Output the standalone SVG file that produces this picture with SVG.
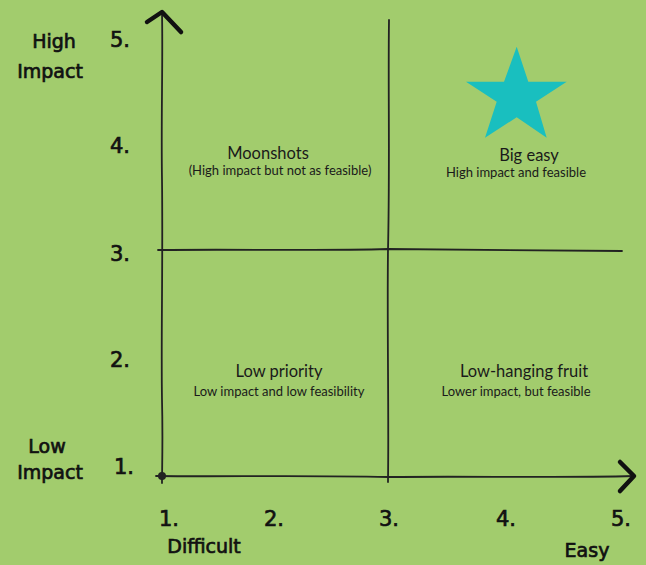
<svg xmlns="http://www.w3.org/2000/svg" width="646" height="565" viewBox="0 0 646 565">
  <style>
    .hand { font-family: "DejaVu Sans", "Liberation Sans", sans-serif; fill: #111; stroke: #111; stroke-width: 0.7; }
    .num { font-size: 21px; }
    .axis-title { font-size: 19px; }
    .title { font-family: "Lato", "Noto Sans", sans-serif; font-size: 16.5px; fill: #1a1a1a; text-anchor: middle; }
    .sub { font-family: "Lato", "Noto Sans", sans-serif; font-size: 13px; fill: #1a1a1a; text-anchor: middle; }
    .line { fill: none; stroke: #222; stroke-width: 1.8; stroke-linecap: round; stroke-linejoin: round; }
    .head { fill: none; stroke: #111; stroke-width: 4.5; stroke-linecap: round; stroke-linejoin: round; }
  </style>
  <rect width="646" height="565" fill="#a2cc6d"/>

  <!-- axes and grid lines -->
  <g id="connectors">
    <path class="line" d="M162,13 C163,60 161,120 162,180 C163,260 161,340 162,400 C163,440 162,470 162,483"/>
    <path class="line" d="M156,476 C220,477 300,475 388,477 C470,476 560,478 634,476"/>
    <path class="line" d="M389,20 C388,90 390,160 388,250 C387,330 389,410 388,482"/>
    <path class="line" d="M158,250 C240,249 320,251 388,249 C470,250 550,251 622,251"/>
    <path class="head" d="M147,22 L162,12 L181,32"/>
    <path class="head" d="M620,462 L634,476 L620,491"/>
    <circle cx="162" cy="476" r="4" fill="#222"/>
  </g>

  <!-- y-axis ticks -->
  <g id="y-labels" class="hand num">
    <text x="110" y="47">5.</text>
    <text x="110" y="153">4.</text>
    <text x="110" y="261">3.</text>
    <text x="110" y="367">2.</text>
    <text x="114" y="474">1.</text>
  </g>

  <!-- x-axis ticks -->
  <g id="x-labels" class="hand num">
    <text x="159" y="526">1.</text>
    <text x="264" y="526">2.</text>
    <text x="379" y="526">3.</text>
    <text x="496" y="526">4.</text>
    <text x="611" y="526">5.</text>
  </g>

  <!-- axis titles -->
  <g id="axis-titles" class="hand axis-title" text-anchor="middle">
    <text x="54" y="48">High</text>
    <text x="50" y="78">Impact</text>
    <text x="47" y="453">Low</text>
    <text x="50" y="479">Impact</text>
    <text x="204" y="553">Difficult</text>
    <text x="587" y="557">Easy</text>
  </g>

  <g id="moonshots">
    <text class="title" x="268" y="159">Moonshots</text>
    <text class="sub" x="280" y="175">(High impact but not as feasible)</text>
  </g>

  <g id="big-easy">
    <polygon fill="#19bfbf" points="516.7,46.7 528.3,81.7 566.7,81.7 536,101.7 546.7,137.7 516.7,117.3 485,137.7 496.7,101.7 466,81.7 504,81.7"/>
    <text class="title" x="529" y="161">Big easy</text>
    <text class="sub" x="516" y="177">High impact and feasible</text>
  </g>

  <g id="low-priority">
    <text class="title" x="279" y="377">Low priority</text>
    <text class="sub" x="279" y="396">Low impact and low feasibility</text>
  </g>

  <g id="low-hanging-fruit">
    <text class="title" x="524" y="377">Low-hanging fruit</text>
    <text class="sub" x="516" y="396">Lower impact, but feasible</text>
  </g>
</svg>
